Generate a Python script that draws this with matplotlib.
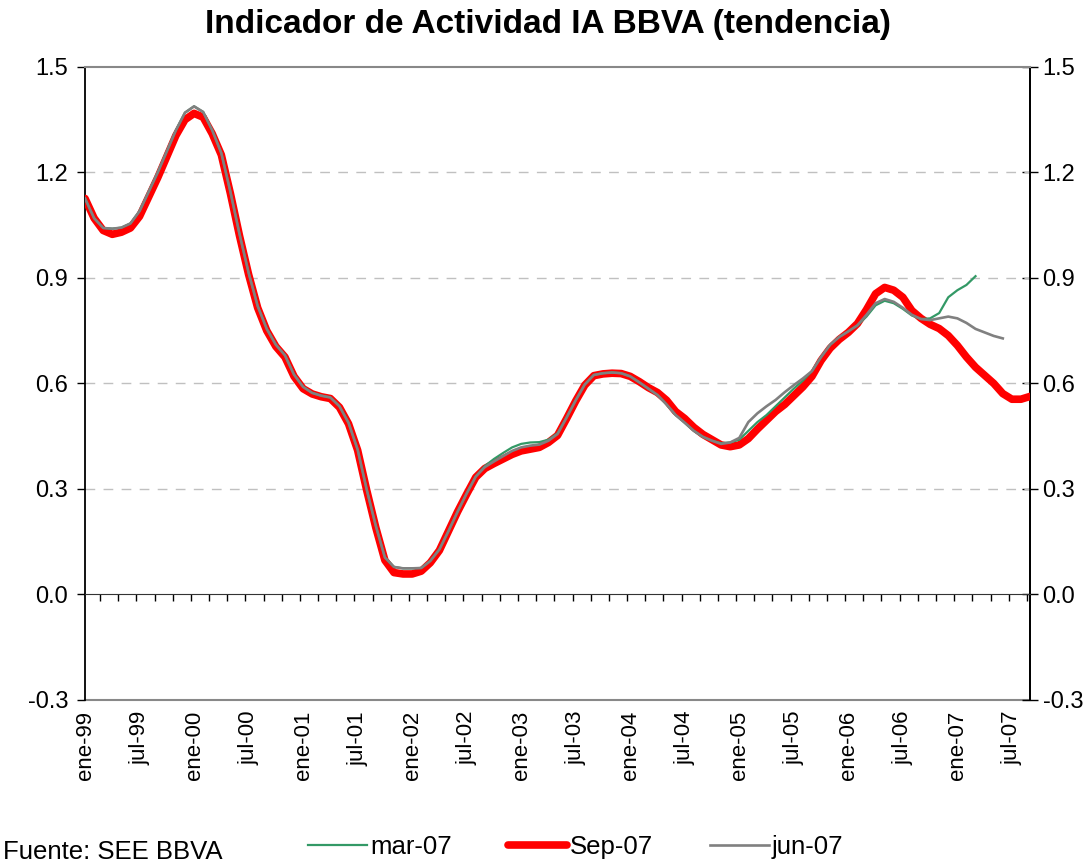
import numpy as np
import matplotlib
matplotlib.use("Agg")
import matplotlib.pyplot as plt

plt.rcParams["font.family"] = ["Liberation Sans", "DejaVu Sans"]

# ===============================
# Data (monthly, ene-99 .. sep-07)
# ===============================
tick_labels = ["ene-99", "jul-99", "ene-00", "jul-00", "ene-01", "jul-01",
               "ene-02", "jul-02", "ene-03", "jul-03", "ene-04", "jul-04",
               "ene-05", "jul-05", "ene-06", "jul-06", "ene-07", "jul-07"]

sep07 = [1.126, 1.07, 1.035, 1.024, 1.03, 1.042, 1.075, 1.13, 1.185, 1.245,
         1.305, 1.35, 1.368, 1.357, 1.31, 1.25, 1.14, 1.02, 0.91, 0.815,
         0.75, 0.705, 0.675, 0.62, 0.585, 0.57, 0.562, 0.557, 0.532, 0.485,
         0.41, 0.296, 0.19, 0.097, 0.062, 0.058, 0.058, 0.066, 0.09, 0.125,
         0.18, 0.235, 0.285, 0.333, 0.358, 0.372, 0.385, 0.398, 0.408, 0.413,
         0.418, 0.432, 0.452, 0.50, 0.55, 0.595, 0.622, 0.627, 0.629, 0.628,
         0.62, 0.605, 0.588, 0.574, 0.552, 0.52, 0.50, 0.475, 0.455, 0.44,
         0.425, 0.42, 0.425, 0.443, 0.47, 0.495, 0.52, 0.54, 0.565, 0.59,
         0.62, 0.665, 0.70, 0.725, 0.745, 0.77, 0.81, 0.855, 0.873, 0.865,
         0.845, 0.807, 0.785, 0.768, 0.756, 0.736, 0.708, 0.675, 0.646, 0.623,
         0.60, 0.571, 0.555, 0.555, 0.563]

jun07 = [1.126, 1.07, 1.042, 1.04, 1.043, 1.055, 1.09, 1.145, 1.20, 1.26,
         1.32, 1.37, 1.388, 1.372, 1.32, 1.255, 1.145, 1.025, 0.915, 0.82,
         0.755, 0.71, 0.68, 0.625, 0.59, 0.573, 0.565, 0.56, 0.535, 0.488,
         0.412, 0.298, 0.195, 0.105, 0.078, 0.074, 0.074, 0.075, 0.095, 0.128,
         0.18, 0.235, 0.287, 0.335, 0.362, 0.378, 0.393, 0.408, 0.418, 0.423,
         0.426, 0.437, 0.456, 0.503, 0.552, 0.597, 0.624, 0.629, 0.631, 0.629,
         0.62, 0.603, 0.585, 0.567, 0.54, 0.51, 0.488, 0.465, 0.448, 0.437,
         0.428, 0.432, 0.445, 0.49, 0.515, 0.535, 0.553, 0.575, 0.595, 0.614,
         0.635, 0.675, 0.71, 0.732, 0.748, 0.765, 0.795, 0.828, 0.84, 0.832,
         0.815, 0.795, 0.783, 0.78, 0.785, 0.79, 0.785, 0.772, 0.755, 0.745,
         0.735, 0.728]

mar07 = [1.126, 1.07, 1.042, 1.04, 1.043, 1.055, 1.09, 1.145, 1.20, 1.26,
         1.32, 1.37, 1.388, 1.372, 1.32, 1.255, 1.145, 1.025, 0.915, 0.82,
         0.755, 0.71, 0.68, 0.625, 0.59, 0.573, 0.565, 0.56, 0.535, 0.488,
         0.412, 0.298, 0.195, 0.105, 0.078, 0.074, 0.074, 0.075, 0.095, 0.128,
         0.18, 0.235, 0.287, 0.335, 0.365, 0.385, 0.402, 0.418, 0.428, 0.432,
         0.433, 0.44, 0.458, 0.503, 0.552, 0.597, 0.624, 0.629, 0.631, 0.629,
         0.62, 0.603, 0.585, 0.567, 0.54, 0.51, 0.488, 0.465, 0.448, 0.437,
         0.43, 0.432, 0.44, 0.465, 0.49, 0.51, 0.535, 0.56, 0.585, 0.608,
         0.635, 0.675, 0.71, 0.732, 0.748, 0.765, 0.79, 0.822, 0.835, 0.828,
         0.812, 0.793, 0.783, 0.785, 0.80, 0.845, 0.865, 0.88, 0.905]

# ===============================
# Figure
# ===============================
fig = plt.figure(figsize=(10.9, 8.64), dpi=100)
ax = fig.add_axes([0.078, 0.19, 0.867, 0.7325])

ax.plot(np.arange(len(sep07)), sep07, color="#FF0000", lw=5.5,
        solid_capstyle="round", solid_joinstyle="round", label="Sep-07", zorder=3)
ax.plot(np.arange(len(mar07)), mar07, color="#339966", lw=1.6, label="mar-07", zorder=4)
ax.plot(np.arange(len(jun07)), jun07, color="#808080", lw=1.9, label="jun-07", zorder=5)

ax.set_xlim(0, len(sep07) - 1)
ax.set_ylim(-0.3, 1.5)

yt = np.arange(-0.3, 1.51, 0.3)
ax.set_yticks(yt)
ax.set_yticklabels([f"{v:.1f}" for v in yt])
ax.tick_params(axis="y", direction="out", length=6, width=1, labelsize=17, pad=6)
for v in yt[2:-1]:
    ax.axhline(v, color="#C0C0C0", lw=1, dashes=(7, 6), zorder=1)

# zero line with small month ticks
ax.spines["bottom"].set_position(("data", 0))
ax.spines["bottom"].set_color("#333333")
ax.set_xticks(np.arange(1.65, len(sep07) - 1, 2))
ax.tick_params(axis="x", direction="out", length=5, width=1, labelbottom=False)

ax.spines["left"].set_linewidth(1.3)
ax.spines["right"].set_linewidth(1.3)
ax.spines["top"].set_color("#888888")
ax.spines["top"].set_linewidth(1.5)

# labelled bottom axis
sec = ax.secondary_xaxis(0)
sec.spines["bottom"].set_color("#888888")
sec.spines["bottom"].set_linewidth(1.5)
sec.set_xticks(np.arange(len(tick_labels)) * 6)
sec.set_xticklabels(tick_labels, rotation=90)
sec.tick_params(axis="x", length=0, labelsize=16, pad=8)

# right y axis
secy = ax.secondary_yaxis("right")
secy.set_yticks(yt)
secy.set_yticklabels([f"{v:.1f}" for v in yt])
secy.tick_params(axis="y", direction="inout", length=12, width=1, labelsize=17, pad=3)
secy.spines["right"].set_linewidth(1.3)

fig.suptitle("Indicador de Actividad IA BBVA (tendencia)", x=0.503, y=0.99,
             fontsize=24, fontweight="bold", va="top")

handles, labels = ax.get_legend_handles_labels()
order = [1, 0, 2]
fig.legend([handles[i] for i in order], [labels[i] for i in order],
           loc="center", bbox_to_anchor=(0.528, 0.02), ncol=3, frameon=False,
           fontsize=18.5, handlelength=2.3, handletextpad=0.1, columnspacing=2.2)
fig.text(0.003, 0.014, "Fuente: SEE BBVA", fontsize=18.5, va="center", ha="left")

fig.savefig("out.png", dpi=100)
